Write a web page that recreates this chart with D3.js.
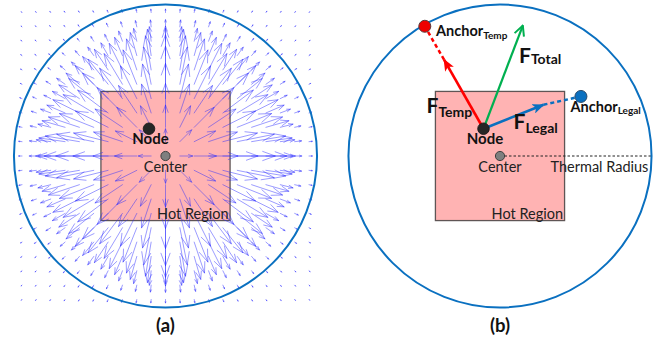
<!DOCTYPE html>
<html>
<head>
<meta charset="utf-8">
<script src="https://cdn.jsdelivr.net/npm/d3@7/dist/d3.min.js"></script>
<style>
  html, body { margin: 0; padding: 0; background: #fff; }
  svg { display: block; font-family: Lato, "Open Sans", sans-serif; }
</style>
</head>
<body>
<svg id="fig" width="659" height="341"></svg>
<script>
// ---- geometry in grid units (1 unit = one quiver grid step), y axis up ----
const thermalRadius = 10.56;
const hotRegionHalf = 4.5;
const nodePos = [-1.15, 1.9];
const centerPos = [0, 0];

// quiver grid indices
const gridIdx = [-10,-9,-8,-7,-6,-5,-4,-3,-2,-1,0,1,2,3,4,5,6,7,8,9,10];

// radial force profile: distance from center -> arrow length (grid units)
const profileDist = [0, 1, 2, 3, 4, 5, 6, 7, 8, 9, 10, 11.2, 14.3];
const profileLen  = [0, 0.9, 1.55, 2.05, 2.45, 2.65, 2.45, 1.9, 1.05, 0.5, 0.24, 0.13, 0.07];

// panel (b) vectors and anchors
const anchorTemp  = [-5.24, 9.04];
const anchorLegal = [5.64, 4.15];
const fTempTip    = [-3.9, 6.71];
const fLegalTip   = [3.03, 3.57];
const fTotalTip   = [1.59, 9.09];

const panelCenters = [165.5, 500];
const panelLabels = ["(a)", "(b)"];
const unitPx = 14.35;
const cy = 156;

const svg = d3.select("#fig");

function makeScales(cx) {
  const sx = d3.scaleLinear().domain([-1, 1]).range([cx - unitPx, cx + unitPx]);
  const sy = d3.scaleLinear().domain([-1, 1]).range([cy + unitPx, cy - unitPx]);
  return { sx, sy };
}

function drawBase(g, sx, sy) {
  g.append("rect")
    .attr("x", sx(-hotRegionHalf)).attr("y", sy(hotRegionHalf))
    .attr("width", sx(hotRegionHalf) - sx(-hotRegionHalf))
    .attr("height", sy(-hotRegionHalf) - sy(hotRegionHalf))
    .attr("fill", "#ffb3b3").attr("stroke", "#5f5555").attr("stroke-width", 1.3);
}

function drawCircle(g, sx, sy) {
  g.append("circle")
    .attr("cx", sx(0)).attr("cy", sy(0))
    .attr("r", sx(thermalRadius) - sx(0))
    .attr("fill", "none").attr("stroke", "#0a70c0").attr("stroke-width", 2);
}

function drawNodeCenter(g, sx, sy) {
  g.append("circle").attr("cx", sx(centerPos[0])).attr("cy", sy(centerPos[1]))
    .attr("r", 4.6).attr("fill", "#7f7f7f").attr("stroke", "#404040").attr("stroke-width", 1);
  g.append("circle").attr("cx", sx(nodePos[0])).attr("cy", sy(nodePos[1]))
    .attr("r", 5.8).attr("fill", "#262626").attr("stroke", "#111").attr("stroke-width", 0.8);
  g.append("text").attr("x", sx(nodePos[0]) + 1.5).attr("y", 144)
    .attr("text-anchor", "middle").attr("font-size", 15).attr("font-weight", 700)
    .attr("fill", "#111").text("Node");
  g.append("text").attr("x", sx(centerPos[0])).attr("y", 171.5)
    .attr("text-anchor", "middle").attr("font-size", 14.5).attr("fill", "#222").text("Center");
  g.append("text").attr("x", sx(hotRegionHalf) - 1.5).attr("y", 218.5)
    .attr("text-anchor", "end").attr("font-size", 14.5).attr("fill", "#222").text("Hot Region");
}

// ---------------- panel (a): radial force field ----------------
{
  const { sx, sy } = makeScales(panelCenters[0]);
  const g = svg.append("g");
  drawBase(g, sx, sy);

  const lenScale = d3.scaleLinear().domain(profileDist).range(profileLen).clamp(true);
  const pts = [];
  gridIdx.forEach(i => gridIdx.forEach(j => pts.push([i, j])));

  const arrows = g.append("g")
    .attr("fill", "none").attr("stroke", "#2a2aff")
    .attr("stroke-opacity", 0.55).attr("stroke-width", 0.85)
    .attr("stroke-linecap", "round");

  pts.forEach(([x, y]) => {
    const d = Math.hypot(x, y);
    const x0 = sx(x), y0 = sy(y);
    if (d === 0) return;
    const L = lenScale(d) * unitPx;
    const ux = (sx(x) - sx(0)) / (sx(d) - sx(0));
    const uy = (sy(y) - sy(0)) / (sx(d) - sx(0));
    const tx = x0 + ux * L, ty = y0 + uy * L;
    const hl = 0.33 * L, hw = 0.12 * L;
    const bx = tx - ux * hl, by = ty - uy * hl;
    const p = d3.path();
    p.moveTo(x0, y0); p.lineTo(tx, ty);
    p.moveTo(bx - uy * hw, by + ux * hw); p.lineTo(tx, ty); p.lineTo(bx + uy * hw, by - ux * hw);
    arrows.append("path").attr("d", p.toString());
  });

  drawCircle(g, sx, sy);
  drawNodeCenter(g, sx, sy);
}

// ---------------- panel (b): force composition ----------------
{
  const { sx, sy } = makeScales(panelCenters[1]);
  const g = svg.append("g");
  const defs = svg.append("defs");

  function stealth(id, color) {
    defs.append("marker").attr("id", id)
      .attr("viewBox", "0 -5 12 10").attr("refX", 11).attr("refY", 0)
      .attr("markerWidth", 12).attr("markerHeight", 10)
      .attr("markerUnits", "userSpaceOnUse").attr("orient", "auto")
      .append("path").attr("d", "M0,-5L12,0L0,5L3,0Z").attr("fill", color);
  }
  stealth("head-red", "#ff0000");
  stealth("head-blue", "#0a70c0");
  defs.append("marker").attr("id", "head-green")
    .attr("viewBox", "-1 -6 12 12").attr("refX", 10).attr("refY", 0)
    .attr("markerWidth", 12).attr("markerHeight", 12)
    .attr("markerUnits", "userSpaceOnUse").attr("orient", "auto")
    .append("path").attr("d", "M0,-5L10,0L0,5").attr("fill", "none")
    .attr("stroke", "#00b050").attr("stroke-width", 2);

  drawBase(g, sx, sy);

  // thermal radius
  g.append("line")
    .attr("x1", sx(0)).attr("y1", sy(0)).attr("x2", sx(thermalRadius)).attr("y2", sy(0))
    .attr("stroke", "#222").attr("stroke-width", 1).attr("stroke-dasharray", "2.5,2");

  drawCircle(g, sx, sy);

  // dashed continuations to anchors
  g.append("line")
    .attr("x1", sx(fTempTip[0])).attr("y1", sy(fTempTip[1]))
    .attr("x2", sx(anchorTemp[0])).attr("y2", sy(anchorTemp[1]))
    .attr("stroke", "#ff0000").attr("stroke-width", 2.5).attr("stroke-dasharray", "4,3");
  g.append("line")
    .attr("x1", sx(fLegalTip[0])).attr("y1", sy(fLegalTip[1]))
    .attr("x2", sx(anchorLegal[0])).attr("y2", sy(anchorLegal[1]))
    .attr("stroke", "#0a70c0").attr("stroke-width", 2.5).attr("stroke-dasharray", "4,3");

  const forces = [
    { tip: fTempTip, color: "#ff0000", head: "head-red", w: 2.6 },
    { tip: fLegalTip, color: "#0a70c0", head: "head-blue", w: 2.6 },
    { tip: fTotalTip, color: "#00b050", head: "head-green", w: 2.2 }
  ];
  forces.forEach(f => {
    g.append("line")
      .attr("x1", sx(nodePos[0])).attr("y1", sy(nodePos[1]))
      .attr("x2", sx(f.tip[0])).attr("y2", sy(f.tip[1]))
      .attr("stroke", f.color).attr("stroke-width", f.w)
      .attr("marker-end", `url(#${f.head})`);
  });

  // anchors
  g.append("circle").attr("cx", sx(anchorTemp[0])).attr("cy", sy(anchorTemp[1]))
    .attr("r", 6).attr("fill", "#ee0000").attr("stroke", "#5a3a3a").attr("stroke-width", 1);
  g.append("circle").attr("cx", sx(anchorLegal[0])).attr("cy", sy(anchorLegal[1]))
    .attr("r", 6).attr("fill", "#0a70c0").attr("stroke", "#2a4a6a").attr("stroke-width", 1);

  drawNodeCenter(g, sx, sy);

  g.append("text").attr("x", 550.5).attr("y", 171.5)
    .attr("font-size", 14.5).attr("fill", "#222").text("Thermal Radius");

  function subLabel(x, y, main, sub, mainSize, subSize, dy) {
    const t = g.append("text").attr("x", x).attr("y", y)
      .attr("font-weight", 700).attr("fill", "#111");
    t.append("tspan").attr("font-size", mainSize).text(main);
    t.append("tspan").attr("font-size", subSize).attr("dy", dy).text(sub);
  }
  subLabel(436, 36, "Anchor", "Temp", 14.5, 10, 2.5);
  subLabel(570.5, 111.5, "Anchor", "Legal", 14.5, 10, 2.5);
  subLabel(426.5, 113, "F", "Temp", 21, 14, 3.5);
  subLabel(513.5, 129, "F", "Legal", 21, 14, 3.5);
  subLabel(519, 62.5, "F", "Total", 21, 14, 1);
}

// panel captions
svg.selectAll("text.caption").data(panelLabels).join("text")
  .attr("class", "caption")
  .attr("x", (d, i) => panelCenters[i])
  .attr("y", 332)
  .attr("text-anchor", "middle").attr("font-size", 18.5).attr("font-weight", 700)
  .attr("fill", "#111").text(d => d);
</script>
</body>
</html>
